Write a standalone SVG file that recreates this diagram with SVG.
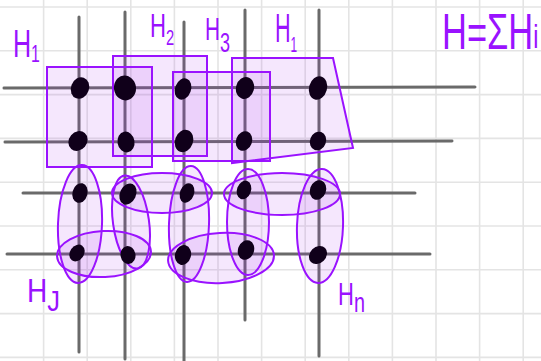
<svg xmlns="http://www.w3.org/2000/svg" width="541" height="361" viewBox="0 0 541 361">
<defs>
<style>
.grid line{stroke:#e4e4e4;stroke-width:1.6}
.lat line{stroke:#6a6a6a;stroke-width:3;stroke-linecap:round}
.dot{fill:#10001a}
.reg{fill:#a020f0;fill-opacity:0.11;stroke:#9a12ff;stroke-width:2}
.lbl{fill:#9a12ff;font-family:"Liberation Sans","DejaVu Sans",sans-serif}
</style>
</defs>
<rect width="541" height="361" fill="#ffffff"/>
<g class="grid">
<line x1="43.6" y1="0" x2="43.6" y2="361"/>
<line x1="87.2" y1="0" x2="87.2" y2="361"/>
<line x1="130.8" y1="0" x2="130.8" y2="361"/>
<line x1="174.4" y1="0" x2="174.4" y2="361"/>
<line x1="218" y1="0" x2="218" y2="361"/>
<line x1="261.6" y1="0" x2="261.6" y2="361"/>
<line x1="305.2" y1="0" x2="305.2" y2="361"/>
<line x1="348.8" y1="0" x2="348.8" y2="361"/>
<line x1="392.4" y1="0" x2="392.4" y2="361"/>
<line x1="436" y1="0" x2="436" y2="361"/>
<line x1="479.6" y1="0" x2="479.6" y2="361"/>
<line x1="523.2" y1="0" x2="523.2" y2="361"/>
<line x1="0" y1="7" x2="541" y2="7"/>
<line x1="0" y1="50.8" x2="541" y2="50.8"/>
<line x1="0" y1="94.6" x2="541" y2="94.6"/>
<line x1="0" y1="138.4" x2="541" y2="138.4"/>
<line x1="0" y1="182.2" x2="541" y2="182.2"/>
<line x1="0" y1="226" x2="541" y2="226"/>
<line x1="0" y1="269.8" x2="541" y2="269.8"/>
<line x1="0" y1="313.6" x2="541" y2="313.6"/>
<line x1="0" y1="357.4" x2="541" y2="357.4"/>
</g>
<g id="connectors" class="lat">
<line x1="79" y1="17" x2="79" y2="352"/>
<line x1="125" y1="12" x2="125" y2="359"/>
<line x1="184" y1="22" x2="184" y2="362"/>
<line x1="245" y1="10" x2="245" y2="320"/>
<line x1="319" y1="10" x2="319" y2="356"/>
<line x1="4" y1="88" x2="475" y2="87"/>
<line x1="5" y1="142" x2="452" y2="141"/>
<line x1="23" y1="193" x2="415" y2="193"/>
<line x1="7" y1="254" x2="430" y2="254"/>
</g>
<g id="regions">
<g id="h1"><rect class="reg" x="47" y="67" width="105" height="100"/></g>
<g id="h2"><rect class="reg" x="113" y="56" width="94" height="100"/></g>
<g id="h3"><rect class="reg" x="173" y="72" width="97" height="89"/></g>
<g id="h4"><polygon class="reg" points="232,58 333,58 353,148 232,163"/></g>
<g id="e1"><ellipse class="reg" cx="80" cy="224" rx="22" ry="59" transform="rotate(2 80 224)"/></g>
<g id="e2"><ellipse class="reg" cx="104" cy="254" rx="47" ry="23" transform="rotate(-3 104 254)"/></g>
<g id="e3"><ellipse class="reg" cx="131" cy="222" rx="18" ry="47" transform="rotate(-8 131 222)"/></g>
<g id="e4"><ellipse class="reg" cx="162" cy="193" rx="50" ry="20"/></g>
<g id="e5"><ellipse class="reg" cx="189" cy="224" rx="20" ry="58" transform="rotate(2 189 224)"/></g>
<g id="e6"><ellipse class="reg" cx="221" cy="258" rx="53" ry="25" transform="rotate(-3 221 258)"/></g>
<g id="e7"><ellipse class="reg" cx="248" cy="222" rx="21" ry="53"/></g>
<g id="e8"><ellipse class="reg" cx="282" cy="194" rx="58" ry="21"/></g>
<g id="e9"><ellipse class="reg" cx="320" cy="226" rx="23" ry="57" transform="rotate(2 320 226)"/></g>
</g>
<g id="nodes">
<g id="n11"><ellipse class="dot" cx="80" cy="88" rx="9" ry="11" transform="rotate(20 80 88)"/></g>
<g id="n12"><ellipse class="dot" cx="125" cy="88" rx="11" ry="12.5" transform="rotate(-10 125 88)"/></g>
<g id="n13"><ellipse class="dot" cx="183" cy="89" rx="8" ry="11" transform="rotate(20 183 89)"/></g>
<g id="n14"><ellipse class="dot" cx="245" cy="88" rx="9" ry="11" transform="rotate(15 245 88)"/></g>
<g id="n15"><ellipse class="dot" cx="318" cy="88" rx="9" ry="12" transform="rotate(15 318 88)"/></g>
<g id="n21"><ellipse class="dot" cx="78" cy="141" rx="9" ry="10.5" transform="rotate(40 78 141)"/></g>
<g id="n22"><ellipse class="dot" cx="126" cy="142" rx="8.5" ry="10.5" transform="rotate(-10 126 142)"/></g>
<g id="n23"><ellipse class="dot" cx="184" cy="141" rx="9" ry="11.5" transform="rotate(20 184 141)"/></g>
<g id="n24"><ellipse class="dot" cx="244" cy="141" rx="8" ry="10" transform="rotate(20 244 141)"/></g>
<g id="n25"><ellipse class="dot" cx="318" cy="141" rx="8" ry="9.5" transform="rotate(20 318 141)"/></g>
<g id="n31"><ellipse class="dot" cx="80" cy="193" rx="7.5" ry="10" transform="rotate(15 80 193)"/></g>
<g id="n32"><ellipse class="dot" cx="128" cy="194" rx="8" ry="11" transform="rotate(25 128 194)"/></g>
<g id="n33"><ellipse class="dot" cx="187" cy="193" rx="7" ry="10" transform="rotate(20 187 193)"/></g>
<g id="n34"><ellipse class="dot" cx="244" cy="190" rx="7" ry="9.5" transform="rotate(20 244 190)"/></g>
<g id="n35"><ellipse class="dot" cx="318" cy="190" rx="8" ry="10" transform="rotate(20 318 190)"/></g>
<g id="n41"><ellipse class="dot" cx="77" cy="253" rx="7" ry="9" transform="rotate(35 77 253)"/></g>
<g id="n42"><ellipse class="dot" cx="128" cy="255" rx="7.5" ry="9" transform="rotate(-10 128 255)"/></g>
<g id="n43"><ellipse class="dot" cx="183" cy="255" rx="8" ry="10" transform="rotate(15 183 255)"/></g>
<g id="n44"><ellipse class="dot" cx="246" cy="250" rx="8" ry="10" transform="rotate(20 246 250)"/></g>
<g id="n45"><ellipse class="dot" cx="318" cy="255" rx="8" ry="10" transform="rotate(45 318 255)"/></g>
</g>
<g id="labels" class="lbl">
<text transform="translate(13 57) scale(0.66 1)" font-size="38">H<tspan font-size="24" dy="5">1</tspan></text>
<text transform="translate(150 37) scale(0.67 1)" font-size="33">H<tspan font-size="22" dy="8">2</tspan></text>
<text transform="translate(205 40) scale(0.67 1)" font-size="31">H<tspan font-size="27" dy="12">3</tspan></text>
<text transform="translate(275 42) scale(0.54 1)" font-size="40">H<tspan font-size="22" dy="10">1</tspan></text>
<text transform="translate(442 49) scale(0.69 1)" font-size="50">H=ΣH<tspan font-size="34" dy="-1">i</tspan></text>
<text transform="translate(27 302) scale(0.85 1)" font-size="33">H<tspan font-size="30" dy="9">J</tspan></text>
<text transform="translate(338 305) scale(0.71 1)" font-size="31">H<tspan font-size="28" dy="7">n</tspan></text>
</g>
</svg>
